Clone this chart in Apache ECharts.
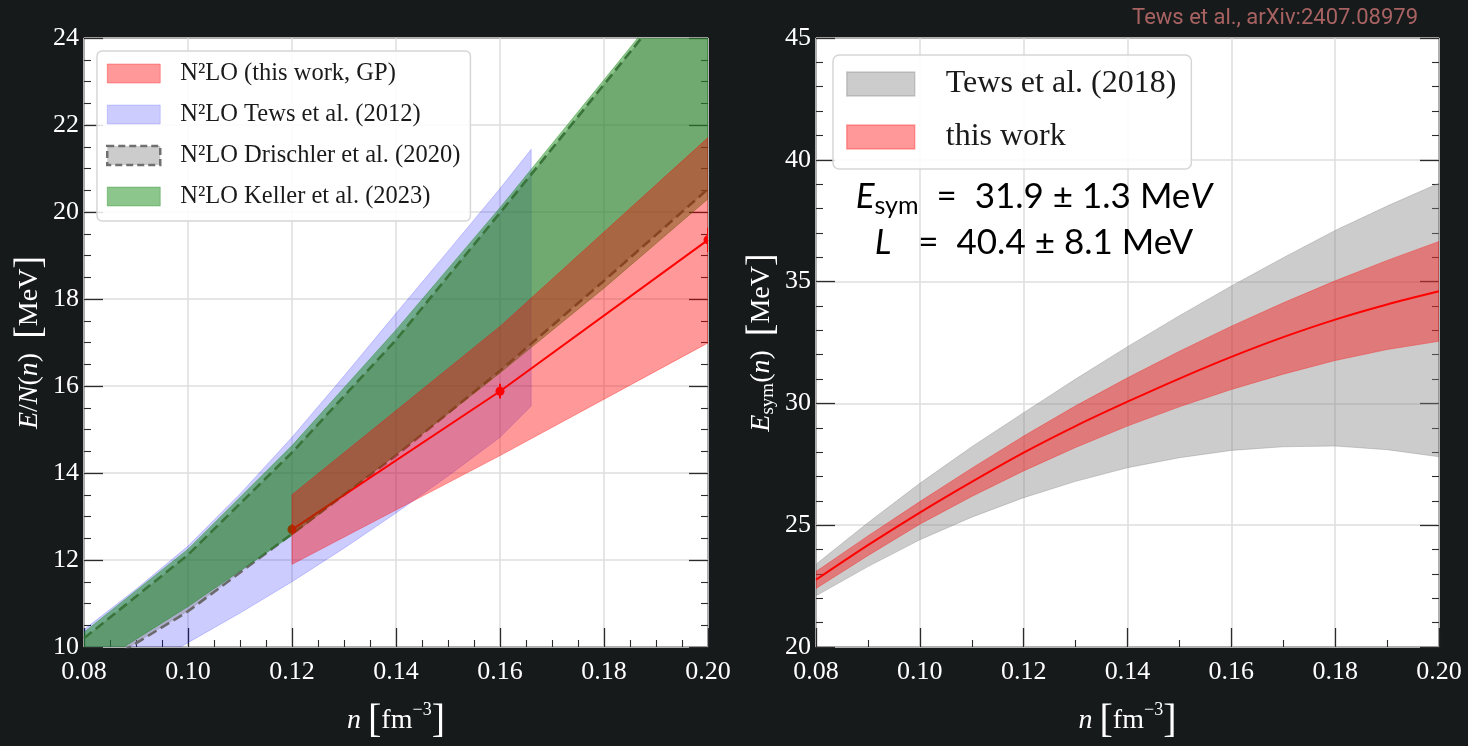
<!DOCTYPE html>
<html>
<head>
<meta charset="utf-8">
<script src="https://cdn.jsdelivr.net/npm/echarts@6/dist/echarts.min.js"></script>
<style>
  html, body { margin: 0; padding: 0; background: #161a1b; }
  #chart { width: 1468px; height: 746px; }
</style>
</head>
<body>
<div id="chart"></div>
<script>
// ---- Pure neutron matter: energy per particle E/N(n) [MeV] ----
const pnmDens = [0.08, 0.10, 0.12, 0.14, 0.16, 0.18, 0.20];
const tews2012Dens  = [0.08, 0.09, 0.10, 0.11, 0.12, 0.13, 0.14, 0.15, 0.16, 0.166];
const tews2012Upper = [10.40, 11.33, 12.32, 13.52, 14.82, 16.23, 17.67, 19.10, 20.54, 21.44];
const tews2012Lower = [8.70, 9.40, 10.10, 10.78, 11.50, 12.27, 13.08, 13.93, 14.82, 15.54];
const drischlerUpper = [10.20, 12.12, 14.47, 17.06, 19.98, 22.93, 25.90];
const drischlerLower = [9.35, 10.82, 12.60, 14.40, 16.35, 18.42, 20.53];
const kellerUpper = [10.34, 12.25, 14.63, 17.29, 20.10, 23.04, 26.00];
const kellerLower = [9.42, 10.93, 12.57, 14.42, 16.30, 18.25, 20.30];
const gpDens    = [0.12, 0.16, 0.20];
const gpUpper   = [13.50, 17.37, 21.71];
const gpLower   = [11.90, 14.40, 16.99];
const gpCentral = [12.70, 15.88, 19.36];
const gpError   = [0.12, 0.17, 0.28];

// ---- Symmetry energy E_sym(n) [MeV] ----
const esymDens = [0.08, 0.09, 0.10, 0.11, 0.12, 0.13, 0.14, 0.15, 0.16, 0.17, 0.18, 0.19, 0.20];
const esymCentral = [22.76, 24.18, 25.52, 26.78, 27.98, 29.07, 30.07, 31.02, 31.91, 32.72, 33.44, 34.06, 34.60];
const esymUpper   = [23.10, 24.56, 25.97, 27.34, 28.66, 29.90, 31.05, 32.14, 33.17, 34.13, 35.03, 35.87, 36.65];
const esymLower   = [22.40, 23.75, 25.04, 26.18, 27.23, 28.19, 29.07, 29.86, 30.57, 31.20, 31.76, 32.21, 32.55];
const tews2018Upper = [23.40, 25.10, 26.72, 28.22, 29.62, 31.00, 32.33, 33.60, 34.82, 35.98, 37.10, 38.10, 39.04];
const tews2018Lower = [22.10, 23.30, 24.40, 25.33, 26.13, 26.80, 27.36, 27.77, 28.07, 28.22, 28.25, 28.10, 27.81];

// ---- Axis ticks ----
const densTicks = { min: 0.08, max: 0.20, interval: 0.02 };
const pnmTicks  = { min: 10, max: 24, interval: 2 };
const esymTicks = { min: 20, max: 45, interval: 5 };

// ---- Labels ----
const pnmNames = {
  gp: 'N²LO (this work, GP)',
  tews: 'N²LO Tews et al. (2012)',
  drischler: 'N²LO Drischler et al. (2020)',
  keller: 'N²LO Keller et al. (2023)'
};
const esymNames = { tews: 'Tews et al. (2018)', gp: 'this work' };

const SERIF = '"Liberation Serif", "DejaVu Serif", serif';
const SANS = 'Lato, "Noto Sans", sans-serif';
const INK = '#2b2b2b';

const C = {
  blue: 'rgba(0,0,255,0.2)',
  gray: 'rgba(128,128,128,0.4)',
  green: 'rgba(0,128,0,0.45)',
  red: 'rgba(255,0,0,0.4)'
};

const zip = (xs, ys) => xs.map((x, i) => [x, ys[i]]);

// Filled band between two curves, drawn as a single closed polygon
function band(name, gi, dens, upper, lower, fill, stroke, z) {
  return {
    name, type: 'custom', xAxisIndex: gi, yAxisIndex: gi * 2,
    clip: true, silent: true, z,
    itemStyle: { color: fill },
    data: dens.map((d, i) => [d, upper[i], lower[i]]),
    encode: { x: 0, y: [1, 2] },
    renderItem(params, api) {
      if (params.dataIndex !== 0) return null;
      const top = dens.map((d, i) => api.coord([d, upper[i]]));
      const bot = dens.map((d, i) => api.coord([d, lower[i]])).reverse();
      return {
        type: 'polygon',
        shape: { points: top.concat(bot) },
        style: { fill, stroke, lineWidth: 1 }
      };
    }
  };
}

function dashed(name, dens, vals, z) {
  return {
    name, type: 'line', xAxisIndex: 0, yAxisIndex: 0, z, silent: true,
    symbol: 'none', clip: true,
    lineStyle: { color: '#6a6a6a', width: 2.6, type: [10, 5] },
    data: zip(dens, vals)
  };
}

function xAxisFor(gi, minorSplit) {
  return {
    type: 'value', gridIndex: gi, ...densTicks,
    axisLine: { show: false, onZero: false },
    axisTick: { show: true, inside: true, length: 19, lineStyle: { color: INK, width: 1.3 } },
    minorTick: { show: true, splitNumber: minorSplit, length: 7, lineStyle: { color: INK, width: 1.1 } },
    splitLine: { show: true, lineStyle: { color: '#dedede', width: 1.5 } },
    axisLabel: {
      color: '#fff', fontFamily: SERIF, fontSize: 26, margin: 12,
      formatter: v => v.toFixed(2), showMinLabel: true, showMaxLabel: true
    },
    name: '{i|n} {b|[}{r|fm}{s|−3}{b|]}',
    nameLocation: 'middle', nameGap: 54,
    nameTextStyle: {
      color: '#fff', fontFamily: SERIF, fontSize: 28,
      rich: {
        i: { color: '#fff', fontFamily: SERIF, fontSize: 28, fontStyle: 'italic' },
        r: { color: '#fff', fontFamily: SERIF, fontSize: 28 },
        b: { color: '#fff', fontFamily: SERIF, fontSize: 40 },
        s: { color: '#fff', fontFamily: SERIF, fontSize: 18, verticalAlign: 'top', padding: [0, 0, 14, 0] }
      }
    }
  };
}

function yAxesFor(gi, ticks, minorSplit, name, gap) {
  const common = {
    type: 'value', gridIndex: gi, ...ticks,
    axisLine: { show: false, onZero: false },
    axisTick: { show: true, inside: true, length: 19, lineStyle: { color: INK, width: 1.3 } },
    minorTick: { show: true, splitNumber: minorSplit, length: 7, lineStyle: { color: INK, width: 1.1 } }
  };
  const rich = {
    i: { color: '#fff', fontFamily: SERIF, fontSize: 28, fontStyle: 'italic' },
    r: { color: '#fff', fontFamily: SERIF, fontSize: 28 },
    b: { color: '#fff', fontFamily: SERIF, fontSize: 38 },
    sub: { color: '#fff', fontFamily: SERIF, fontSize: 19, padding: [12, 0, 0, 0] }
  };
  return [
    {
      ...common, position: 'left',
      splitLine: { show: true, lineStyle: { color: '#dedede', width: 1.5 } },
      axisLabel: { color: '#fff', fontFamily: SERIF, fontSize: 26, margin: 5, showMinLabel: true, showMaxLabel: true },
      name, nameLocation: 'middle', nameRotate: 90, nameGap: gap,
      nameTextStyle: { color: '#fff', fontFamily: SERIF, fontSize: 28, rich }
    },
    {
      ...common, position: 'right',
      splitLine: { show: false },
      axisLabel: { show: false }
    }
  ];
}

const gridStyle = { show: true, backgroundColor: '#ffffff', borderColor: '#2a2a2a', borderWidth: 2 };

const option = {
  animation: false,
  backgroundColor: '#161a1b',
  grid: [
    { left: 84, top: 38, width: 624, height: 613, ...gridStyle },
    { left: 816, top: 38, width: 623, height: 610, ...gridStyle }
  ],
  xAxis: [xAxisFor(0, 4), xAxisFor(1, 2)],
  yAxis: [
    ...yAxesFor(0, pnmTicks, 4, '{i|E}{r|/}{i|N}{r|(}{i|n}{r|)  }{b|[}{r|MeV}{b|]}', 28),
    ...yAxesFor(1, esymTicks, 5, '{i|E}{sub|sym}{r|(}{i|n}{r|)  }{b|[}{r|MeV}{b|]}', 25)
  ],
  legend: [
    {
      left: 97, top: 51, orient: 'vertical', selectedMode: false, z: 20,
      backgroundColor: 'rgba(255,255,255,0.85)', borderColor: '#d6d6d6', borderWidth: 1.5, borderRadius: 5,
      padding: [10, 10, 12, 9], itemWidth: 53, itemHeight: 19, itemGap: 16,
      textStyle: { fontFamily: SERIF, fontSize: 24.5, lineHeight: 24, color: '#1a1a1a', padding: [0, 0, 0, 15] },
      data: [
        { name: pnmNames.gp, icon: 'rect', itemStyle: { color: C.red, borderColor: 'rgba(255,0,0,0.3)', borderWidth: 1 } },
        { name: pnmNames.tews, icon: 'rect', itemStyle: { color: C.blue, borderColor: 'rgba(0,0,255,0.15)', borderWidth: 1 } },
        { name: pnmNames.drischler, icon: 'rect', itemStyle: { color: C.gray, borderColor: '#707070', borderWidth: 2.5, borderType: [7, 4] } },
        { name: pnmNames.keller, icon: 'rect', itemStyle: { color: C.green, borderColor: 'rgba(0,128,0,0.3)', borderWidth: 1 } }
      ]
    },
    {
      left: 833, top: 55, orient: 'vertical', selectedMode: false, z: 20,
      backgroundColor: 'rgba(255,255,255,0.85)', borderColor: '#d6d6d6', borderWidth: 1.5, borderRadius: 6,
      padding: [13, 15, 16, 13], itemWidth: 68, itemHeight: 24, itemGap: 21,
      textStyle: { fontFamily: SERIF, fontSize: 32, lineHeight: 27, color: '#1a1a1a', padding: [0, 0, 0, 26] },
      data: [
        { name: esymNames.tews, icon: 'rect', itemStyle: { color: C.gray, borderColor: 'rgba(128,128,128,0.35)', borderWidth: 1.5 } },
        { name: esymNames.gp, icon: 'rect', itemStyle: { color: C.red, borderColor: 'rgba(255,0,0,0.3)', borderWidth: 1.5 } }
      ]
    }
  ],
  graphic: [
    {
      type: 'text', right: 50, top: 7, silent: true,
      style: { text: 'Tews et al., arXiv:2407.08979', fill: '#a86262', font: '22px Roboto, "Noto Sans", sans-serif' }
    },
    {
      type: 'text', x: 1034, y: 197, silent: true, z: 30,
      style: {
        text: '{i|E}{sub|sym}{r|  =  31.9 ± 1.3 Me}{i|V}',
        align: 'center', verticalAlign: 'middle',
        rich: {
          i: { fill: '#000', fontFamily: SANS, fontSize: 35, fontStyle: 'italic' },
          r: { fill: '#000', fontFamily: SANS, fontSize: 35 },
          sub: { fill: '#000', fontFamily: SANS, fontSize: 25, padding: [17, 0, 0, 0] }
        }
      }
    },
    {
      type: 'text', x: 1034, y: 243, silent: true, z: 30,
      style: {
        text: '{i|L}{r|   =  40.4 ± 8.1 MeV}',
        align: 'center', verticalAlign: 'middle',
        rich: {
          i: { fill: '#000', fontFamily: SANS, fontSize: 35, fontStyle: 'italic' },
          r: { fill: '#000', fontFamily: SANS, fontSize: 35 }
        }
      }
    }
  ],
  series: [
    // left panel
    band(pnmNames.tews, 0, tews2012Dens, tews2012Upper, tews2012Lower, C.blue, 'rgba(0,0,255,0.18)', 1),
    band(pnmNames.drischler, 0, pnmDens, drischlerUpper, drischlerLower, C.gray, 'rgba(0,0,0,0)', 2),
    dashed('drischler-upper', pnmDens, drischlerUpper, 3),
    dashed('drischler-lower', pnmDens, drischlerLower, 3),
    {
      name: 'gp-central', type: 'line', xAxisIndex: 0, yAxisIndex: 0, z: 4, silent: true,
      symbol: 'none', lineStyle: { color: '#ff0000', width: 2 },
      data: zip(gpDens, gpCentral)
    },
    {
      name: 'gp-points', type: 'custom', xAxisIndex: 0, yAxisIndex: 0, z: 4, clip: true, silent: true,
      data: gpDens.map((d, i) => [d, gpCentral[i], gpError[i]]),
      encode: { x: 0, y: 1 },
      renderItem(params, api) {
        const n = api.value(0), e = api.value(1), err = api.value(2);
        const c = api.coord([n, e]);
        const hi = api.coord([n, e + err]);
        const lo = api.coord([n, e - err]);
        return {
          type: 'group',
          children: [
            { type: 'line', shape: { x1: hi[0], y1: hi[1], x2: lo[0], y2: lo[1] }, style: { stroke: '#ff0000', lineWidth: 2 } },
            { type: 'circle', shape: { cx: c[0], cy: c[1], r: 4.5 }, style: { fill: '#ff0000' } }
          ]
        };
      }
    },
    band(pnmNames.keller, 0, pnmDens, kellerUpper, kellerLower, C.green, 'rgba(0,128,0,0.35)', 5),
    band(pnmNames.gp, 0, gpDens, gpUpper, gpLower, C.red, 'rgba(255,0,0,0.35)', 6),

    // right panel
    band(esymNames.tews, 1, esymDens, tews2018Upper, tews2018Lower, C.gray, 'rgba(128,128,128,0.35)', 1),
    band(esymNames.gp, 1, esymDens, esymUpper, esymLower, C.red, 'rgba(255,0,0,0.3)', 2),
    {
      name: 'esym-central', type: 'line', xAxisIndex: 1, yAxisIndex: 2, z: 3, silent: true,
      symbol: 'none', smooth: 0.3, lineStyle: { color: '#ff0000', width: 2 },
      data: zip(esymDens, esymCentral)
    }
  ]
};

const chart = echarts.init(document.getElementById('chart'), null, { renderer: 'canvas' });
chart.setOption(option);
</script>
</body>
</html>
